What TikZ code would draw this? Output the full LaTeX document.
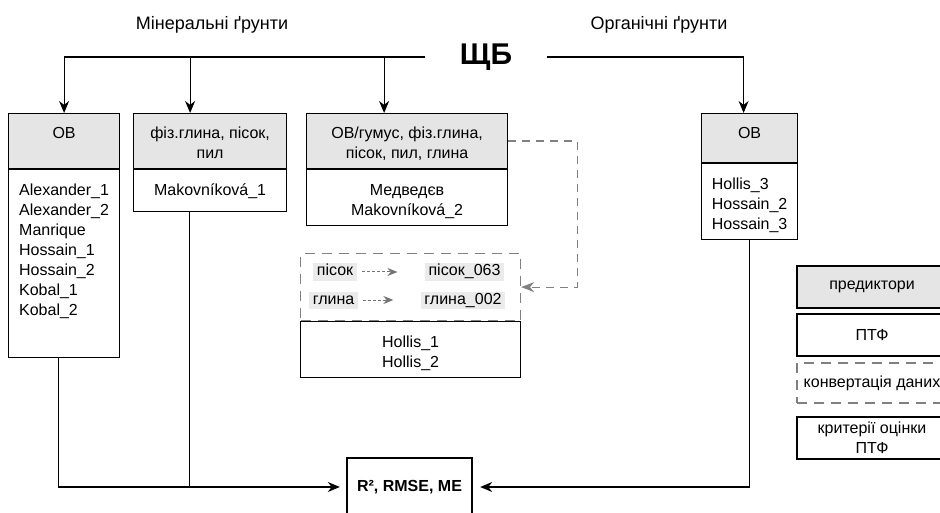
\documentclass[tikz,border=0pt]{standalone}
\usepackage{fontspec}
\setmainfont{Liberation Sans}
\usetikzlibrary{positioning}
\usetikzlibrary{arrows.meta}
\def\fs{\fontsize{16}{20}\selectfont}
\def\lw{150pt}
% rows of a block, hung from the first line
\def\rows#1#2{\begin{tabular}[t]{@{}#1@{}}#2\end{tabular}}
\tikzset{
    head/.style = {
        draw, rectangle, fill=black!10, anchor=north west,
        inner xsep=7pt, inner ysep=8pt, text height=17pt, text depth=22pt
    },
    body/.style = {
        draw, rectangle, inner xsep=7pt, inner ysep=8pt, text height=18pt
    },
    convbox/.style = {
        draw=gray, rectangle, dash pattern=on 10pt off 7pt
    },
    mark box/.style = {
        fill=black!8, inner xsep=3.5pt, inner ysep=1.5pt, text height=11pt, text depth=3pt
    },
    cvt/.style = {
        draw=black!55, line width=1pt, dash pattern=on 3pt off 2pt, -{Stealth[length=10pt, width=8pt]}
    },
    convlink/.style = {
        draw=gray, dash pattern=on 8pt off 6pt, -{Stealth[length=13pt, width=10pt]}
    },
    legend/.style = {
        draw, rectangle, minimum width=\lw, minimum height=42pt, align=center
    },
}

\begin{document}
\begin{tikzpicture}[x=1pt, y=-1pt, line width=1.2pt, font=\fs,
    >={Stealth[length=12pt, width=10pt]}]
        \useasboundingbox (0,0) rectangle (940,513);
        \clip (0,0) rectangle (940,513);

        % Titles
        \node[font=\fontsize{18}{22}\selectfont] (mintitle) at (212,25) {Мінеральні ґрунти};
        \node[font=\fontsize{18}{22}\selectfont] (orgtitle) at (659,25) {Органічні ґрунти};
        \node[inner xsep=34pt, font=\fontsize{30}{36}\selectfont\bfseries] (sb) at (486,57) {ЩБ};

        % Place the blocks
        \node[head, minimum width=111pt] (h1) at (8,113) {ОВ};
        \node[body, minimum width=111pt, text depth=154pt, below=0pt of h1] (b1)
            {\rows{l}{Alexander\_1\\Alexander\_2\\Manrique\\Hossain\_1\\Hossain\_2\\Kobal\_1\\Kobal\_2}};

        \node[head, minimum width=153pt] (h2) at (133,113) {\rows{c}{фіз.глина, пісок,\\пил}};
        \node[body, minimum width=153pt, text depth=8pt, below=0pt of h2] (b2)
            {Makovníková\_1};

        \node[head, minimum width=201pt] (h3) at (306,113) {\rows{c}{ОВ/гумус, фіз.глина,\\пісок, пил, глина}};
        \node[body, minimum width=201pt, text depth=22pt, below=0pt of h3] (b3)
            {\rows{c}{Медведєв\\Makovníková\_2}};

        \node[head, minimum width=96pt, text depth=16pt] (h4) at (701,113) {ОВ};
        \node[body, minimum width=96pt, text depth=42pt, below=0pt of h4] (b4)
            {\rows{l}{Hollis\_3\\Hossain\_2\\Hossain\_3}};

        % Conversion block
        \node[body, minimum width=220pt, text depth=22pt, anchor=north west] (hol)
            at (300,321) {\rows{c}{Hollis\_1\\Hollis\_2}};
        \node[convbox, minimum width=220pt, minimum height=67pt, anchor=north west] (conv) at (300,253) {};
        \node[mark box] (s1) at (335,272) {пісок};
        \node[mark box] (s2) at (464.5,272) {пісок\_063};
        \node[mark box] (g1) at (333.5,300) {глина};
        \node[mark box] (g2) at (463,300) {глина\_002};
        \draw[cvt] ([xshift=5pt]s1.east) -- ([xshift=-27pt]s2.west);
        \draw[cvt] ([xshift=5pt]g1.east) -- ([xshift=-27pt]g2.west);

        % Result
        \node[draw, line width=2.4pt, minimum width=125pt, minimum height=58pt, font=\fs\bfseries] (res)
            at (409.5,487) {R², RMSE, ME};

        % Draw connections
        \draw[->] (sb.west) -| (h1.north);
        \draw[->] ([xshift=-20pt]h2.north |- sb.west) -- ([xshift=-20pt]h2.north);
        \draw[->] ([xshift=-23pt]h3.north |- sb.west) -- ([xshift=-23pt]h3.north);
        \draw[->] (sb.east) -| ([xshift=-6pt]h4.north);
        \draw[convlink] (h3.east) -- ++(69,0) |- (conv.east);

        \draw[->, shorten >=6pt] ([xshift=-6pt]b1.south) |- (res.west);
        \draw ([xshift=-21pt]b2.south) -- ([xshift=-21pt]b2.south |- res.west);
        \draw[->, shorten >=7pt] (b4.south) |- (res.east);

        % Legend
        \node[legend, fill=black!10] (lg1) at (872,287) {предиктори};
        \node[legend] (lg2) at (872,335) {ПТФ};
        \node[legend, draw=gray, dash pattern=on 10pt off 7pt, minimum height=40pt] (lg3) at (872,383) {конвертація даних};
        \node[legend, line width=2.4pt] (lg4) at (872,438) {критерії оцінки\\ПТФ};
\end{tikzpicture}
\end{document}
